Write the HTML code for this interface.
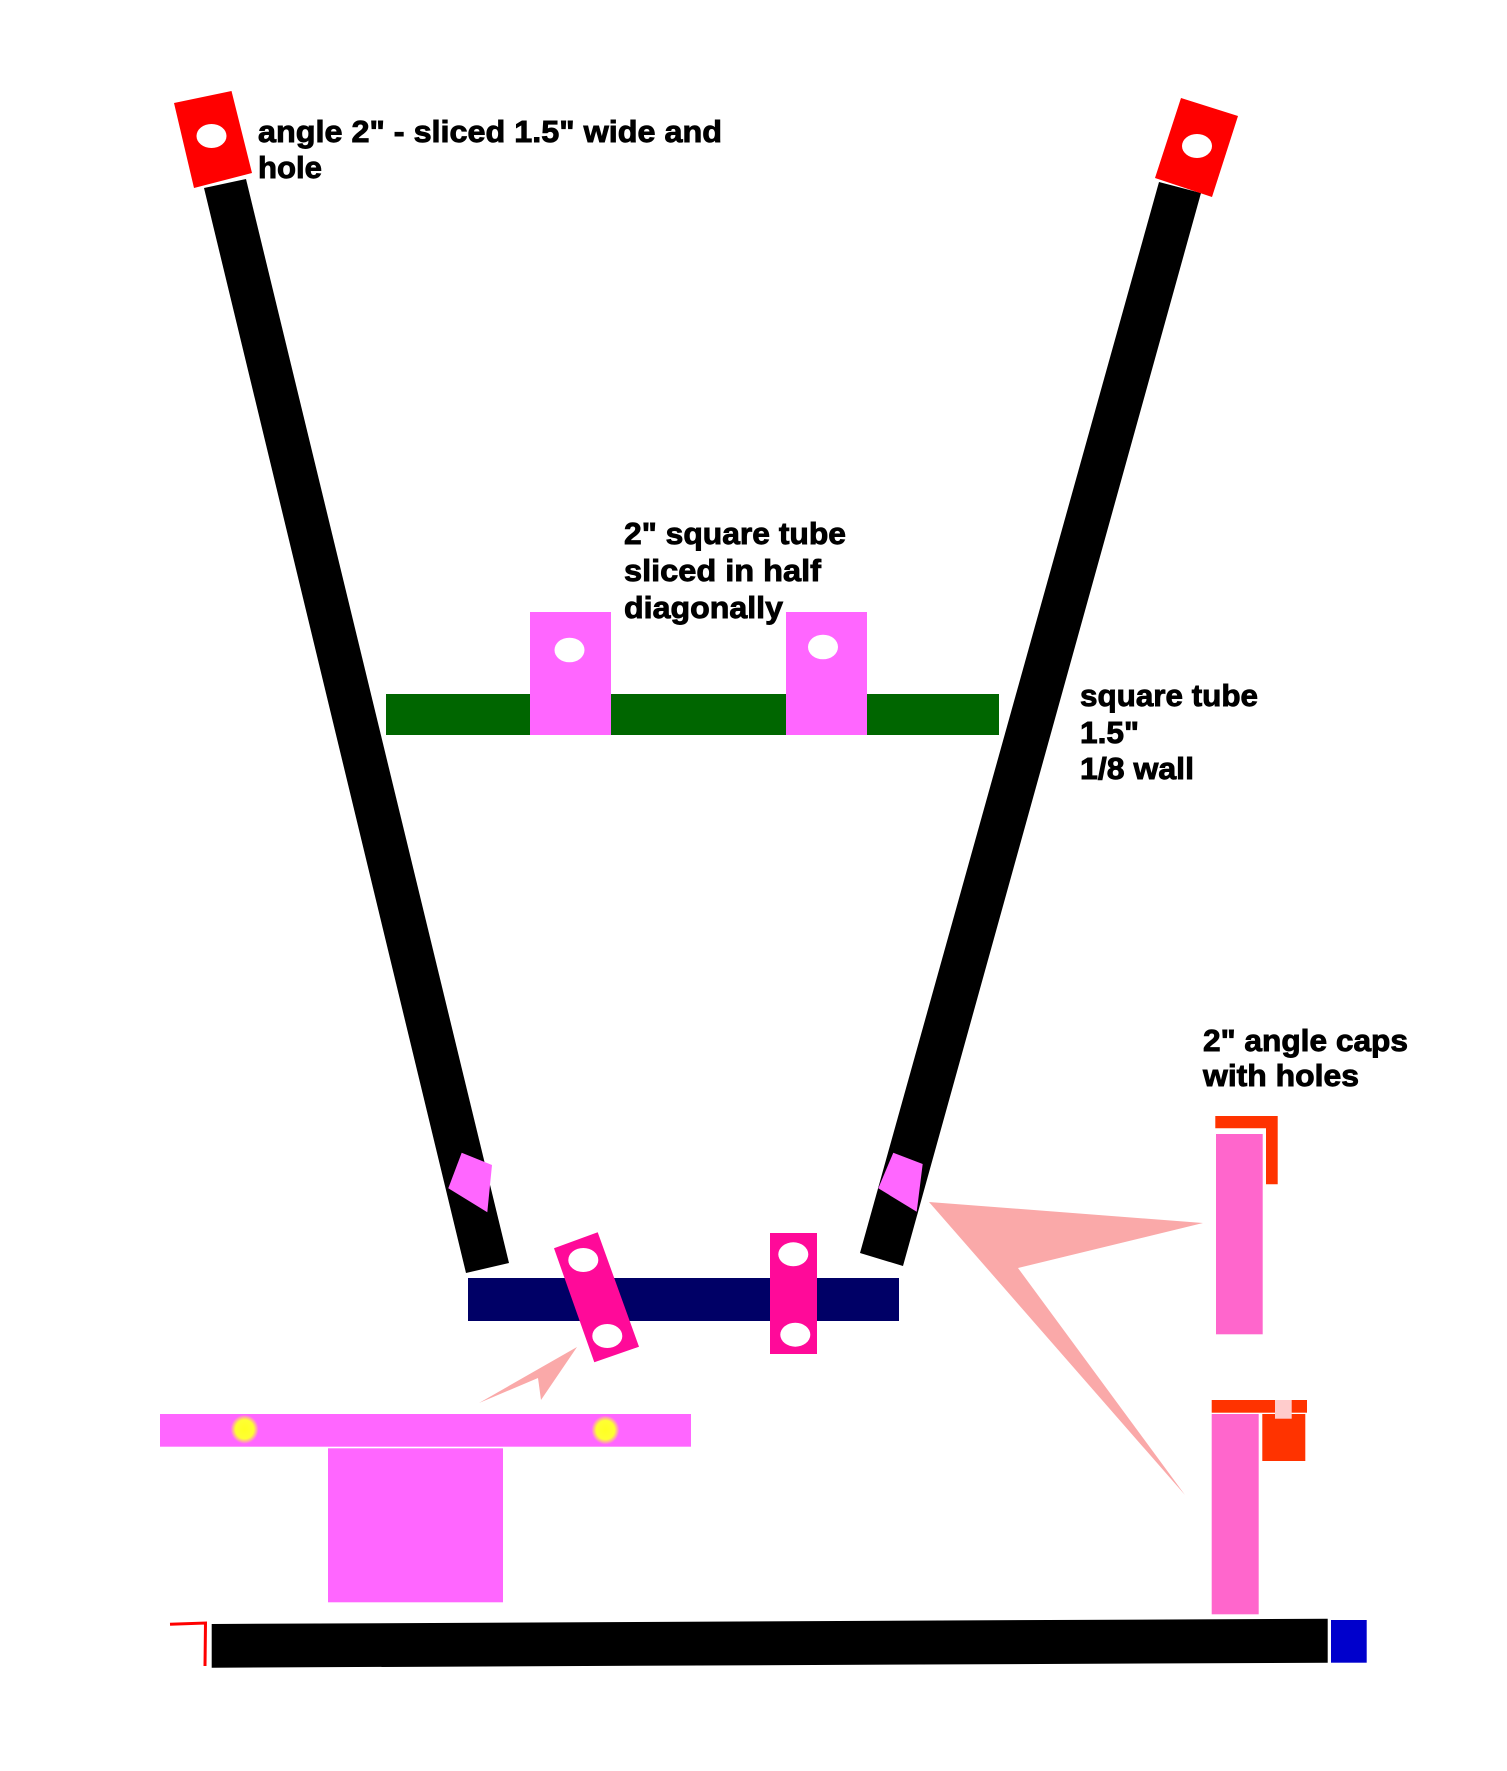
<!DOCTYPE html>
<html>
<head>
<meta charset="utf-8">
<style>
  html, body { margin: 0; padding: 0; background: #ffffff; }
  body { width: 1507px; height: 1771px; overflow: hidden; }
  svg { display: block; }
  text { font-family: "Liberation Sans", Arial, sans-serif; font-weight: bold; font-size: 31px; fill: #000; stroke: #000; stroke-width: 0.9px; }
</style>
</head>
<body>
<svg width="1507" height="1771" viewBox="0 0 1507 1771" xmlns="http://www.w3.org/2000/svg">
  <defs>
    <radialGradient id="yel" cx="50%" cy="50%" r="50%">
      <stop offset="0%" stop-color="#ffff22"/>
      <stop offset="65%" stop-color="#ffff33"/>
      <stop offset="100%" stop-color="#ff66ff"/>
    </radialGradient>
  </defs>
  <rect width="1507" height="1771" fill="#ffffff"/>

  <!-- left black tube -->
  <polygon points="204,188 246,179 509,1263 466,1273" fill="#000"/>
  <!-- right black tube -->
  <polygon points="1159,182 1201,193 903,1266 860,1253" fill="#000"/>

  <!-- red angle pieces -->
  <polygon points="174,103 231.5,91 252,173 194,188" fill="#ff0000"/>
  <ellipse cx="211.5" cy="136" rx="15" ry="12" fill="#fff"/>
  <polygon points="1181,98 1238,116 1212,197 1155,178" fill="#ff0000"/>
  <ellipse cx="1197" cy="146" rx="15" ry="12" fill="#fff"/>

  <!-- top-left text -->
  <text x="258" y="142" textLength="464" lengthAdjust="spacingAndGlyphs">angle 2" - sliced 1.5" wide and</text>
  <text x="258" y="178" textLength="64" lengthAdjust="spacingAndGlyphs">hole</text>

  <!-- middle text -->
  <text x="624" y="544" textLength="222" lengthAdjust="spacingAndGlyphs">2" square tube</text>
  <text x="624" y="581" textLength="197" lengthAdjust="spacingAndGlyphs">sliced in half</text>
  <text x="624" y="618" textLength="159" lengthAdjust="spacingAndGlyphs">diagonally</text>

  <!-- green bar with pink blocks -->
  <rect x="386" y="694" width="613" height="41" fill="#006600"/>
  <rect x="530" y="612" width="81" height="123" fill="#ff66ff"/>
  <ellipse cx="569.5" cy="650" rx="15" ry="12.3" fill="#fff"/>
  <rect x="786" y="612" width="81" height="123" fill="#ff66ff"/>
  <ellipse cx="823" cy="647" rx="15" ry="12.3" fill="#fff"/>

  <!-- right text -->
  <text x="1080" y="706" textLength="178" lengthAdjust="spacingAndGlyphs">square tube</text>
  <text x="1080" y="743" textLength="59" lengthAdjust="spacingAndGlyphs">1.5"</text>
  <text x="1080" y="779" textLength="114" lengthAdjust="spacingAndGlyphs">1/8 wall</text>

  <!-- caps text -->
  <text x="1203" y="1051" textLength="205" lengthAdjust="spacingAndGlyphs">2" angle caps</text>
  <text x="1203" y="1086" textLength="156" lengthAdjust="spacingAndGlyphs">with holes</text>

  <!-- pink pieces on tubes -->
  <polygon points="461.7,1152.7 492,1165 487.3,1212.3 448.3,1188.3" fill="#ff66ff"/>
  <polygon points="893.3,1152.7 922.7,1164 916.7,1211.7 878.3,1188.3" fill="#ff66ff"/>

  <!-- navy bar -->
  <rect x="468" y="1278" width="431" height="43" fill="#000066"/>

  <!-- magenta tilted piece -->
  <polygon points="554,1248.3 597.7,1232.3 639,1346.7 594.3,1362.3" fill="#ff0a99"/>
  <ellipse cx="583.3" cy="1260" rx="15" ry="12" fill="#fff"/>
  <ellipse cx="607.3" cy="1336" rx="15" ry="12" fill="#fff"/>

  <!-- magenta vertical piece -->
  <rect x="770" y="1233" width="47" height="121" fill="#ff0a99"/>
  <ellipse cx="793.3" cy="1254.3" rx="15" ry="12" fill="#fff"/>
  <ellipse cx="795.3" cy="1334.7" rx="15" ry="12" fill="#fff"/>

  <!-- arrows -->
  <polygon points="577,1347 479,1403 538,1378 541,1400" fill="#faa9a9"/>
  <polygon points="929,1202 1203,1223 1018,1268 1185,1495" fill="#faa9a9"/>

  <!-- upper right cap piece -->
  <rect x="1216" y="1134" width="46.7" height="200.3" fill="#ff66cc"/>
  <polygon points="1215.3,1116 1277.7,1116 1277.7,1184.3 1266,1184.3 1266,1128.3 1215.3,1128.3" fill="#ff3300"/>

  <!-- lower right cap piece -->
  <rect x="1211.7" y="1400" width="95.3" height="12.7" fill="#ff3300"/>
  <rect x="1262.3" y="1414" width="43" height="47" fill="#ff3300"/>
  <rect x="1275" y="1400" width="16.7" height="18.7" fill="#ffcccc"/>
  <rect x="1211.7" y="1414" width="47" height="200.3" fill="#ff66cc"/>

  <!-- left-bottom pink assembly -->
  <rect x="160" y="1414" width="531" height="32.7" fill="#ff66ff"/>
  <ellipse cx="244.6" cy="1429.3" rx="14" ry="14.5" fill="url(#yel)"/>
  <ellipse cx="605.4" cy="1430" rx="14" ry="14.5" fill="url(#yel)"/>
  <rect x="328" y="1448.3" width="175" height="154" fill="#ff66ff"/>

  <!-- bottom black bar -->
  <polygon points="211.7,1624 1327.7,1618.7 1327.7,1662.7 211.7,1667.7" fill="#000"/>
  <rect x="1331" y="1620" width="35.7" height="42.7" fill="#0000cc"/>
  <!-- red corner mark -->
  <polyline points="170,1624.3 205.5,1623 205,1666" fill="none" stroke="#ff0000" stroke-width="3"/>
</svg>
</body>
</html>
